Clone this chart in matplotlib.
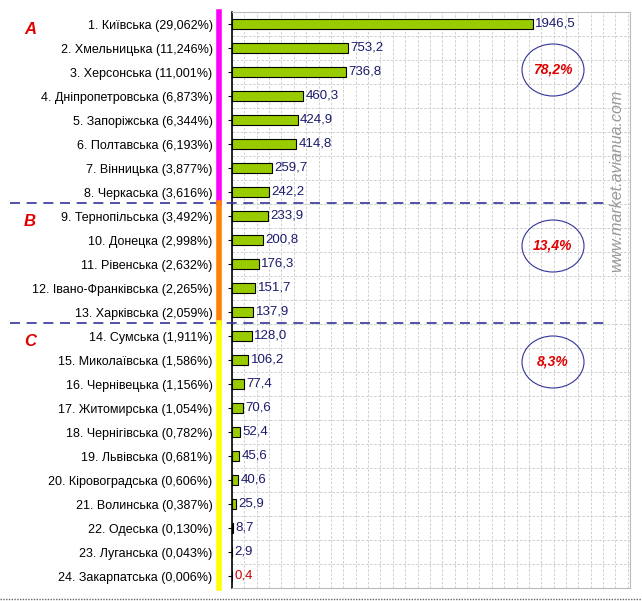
import matplotlib.pyplot as plt
from matplotlib.patches import Ellipse
import numpy as np

plt.rcParams['font.family'] = ['Liberation Sans', 'DejaVu Sans']

regions = ["Київська (29,062%)", "Хмельницька (11,246%)", "Херсонська (11,001%)",
           "Дніпропетровська (6,873%)", "Запоріжська (6,344%)", "Полтавська (6,193%)",
           "Вінницька (3,877%)", "Черкаська (3,616%)", "Тернопільська (3,492%)",
           "Донецка (2,998%)", "Рівенська (2,632%)", "Івано-Франківська (2,265%)",
           "Харківська (2,059%)", "Сумська (1,911%)", "Миколаївська (1,586%)",
           "Чернівецька (1,156%)", "Житомирська (1,054%)", "Чернігівська (0,782%)",
           "Львівська (0,681%)", "Кіровоградська (0,606%)", "Волинська (0,387%)",
           "Одеська (0,130%)", "Луганська (0,043%)", "Закарпатська (0,006%)"]
values = [1946.5, 753.2, 736.8, 460.3, 424.9, 414.8, 259.7, 242.2, 233.9, 200.8,
          176.3, 151.7, 137.9, 128.0, 106.2, 77.4, 70.6, 52.4, 45.6, 40.6, 25.9,
          8.7, 2.9, 0.4]
groups = ["A", "B", "C"]
group_share = ["78,2%", "13,4%", "8,3%"]
group_sizes = [8, 5, 11]
group_colors = ["#ff00ff", "#ff8000", "#ffff00"]

fig = plt.figure(figsize=(6.42, 6.01), dpi=100)
fig.patch.set_facecolor("white")
L, R, B, T = 232/642, 630/642, 13/601, 589/601
ax = fig.add_axes([L, B, R-L, T-B])
y = np.arange(len(values))
ax.barh(y, values, height=0.45, color="#99cc00", edgecolor="black", linewidth=0.8, zorder=3)
xmax = 2574
ax.set_xlim(0, xmax)
ax.set_ylim(23.5, -0.45)
ax.set_yticks(y)
ax.set_yticklabels([f"{i+1}. {r}" for i, r in enumerate(regions)], fontsize=9)
ax.tick_params(axis="y", length=3, pad=11)
ax.set_xticks([])
ax.set_xticks(np.arange(0, xmax, 80), minor=True)
ax.set_yticks(np.arange(-0.5, 23.5, 0.5), minor=True)
ax.tick_params(which="minor", length=0)
ax.grid(which="minor", color="#c8c8c8", linestyle=(0, (3, 2)), linewidth=0.6, zorder=0)
for s in ["top", "right", "bottom"]:
    ax.spines[s].set_color("#bbbbbb")
ax.spines["left"].set_linewidth(1.2)
for i, v in enumerate(values):
    ax.text(v + 14, i, f"{v:.1f}".replace(".", ","), va="center", ha="left", fontsize=9.5,
            color="#cc0000" if i == len(values)-1 else "#1a1a6e", zorder=4)

def fy(row):
    return T - (row + 0.45) / 23.95 * (T - B)

ellipse_y = [70, 246, 362]
start = 0
for g, share, n, c, ey in zip(groups, group_share, group_sizes, group_colors, ellipse_y):
    top = fy(start - 0.5) if start else T
    bot = fy(start + n - 0.5) if start + n < 24 else B
    fig.add_artist(plt.Line2D([219/642]*2, [bot, top], color=c, linewidth=4))
    fig.text(30/642, top - 18/601, g, color="#e00000", fontsize=12, fontweight="bold",
             style="italic", ha="center", va="center")
    yc = (601 - ey) / 601
    fig.add_artist(Ellipse((553/642, yc), 62/642, 52/601, fill=False, edgecolor="#333399",
                           linewidth=0.8, transform=fig.transFigure))
    fig.text(553/642, yc, share, color="#e00000", fontsize=10, fontweight="bold",
             style="italic", ha="center", va="center")
    if start + n < 24:
        fig.add_artist(plt.Line2D([10/642, 610/642], [bot, bot], color="#333399",
                                  linewidth=1.2, linestyle=(0, (6, 4))))
    start += n

fig.text(617/642, 420/601, "www.market.avianua.com", rotation=90, color="#999999",
         fontsize=11.5, style="italic", ha="center", va="center")
fig.add_artist(plt.Line2D([0, 1], [2/601, 2/601], color="#666666", linewidth=1,
                          linestyle=(0, (1, 1))))
fig.savefig("out.png", dpi=100)
